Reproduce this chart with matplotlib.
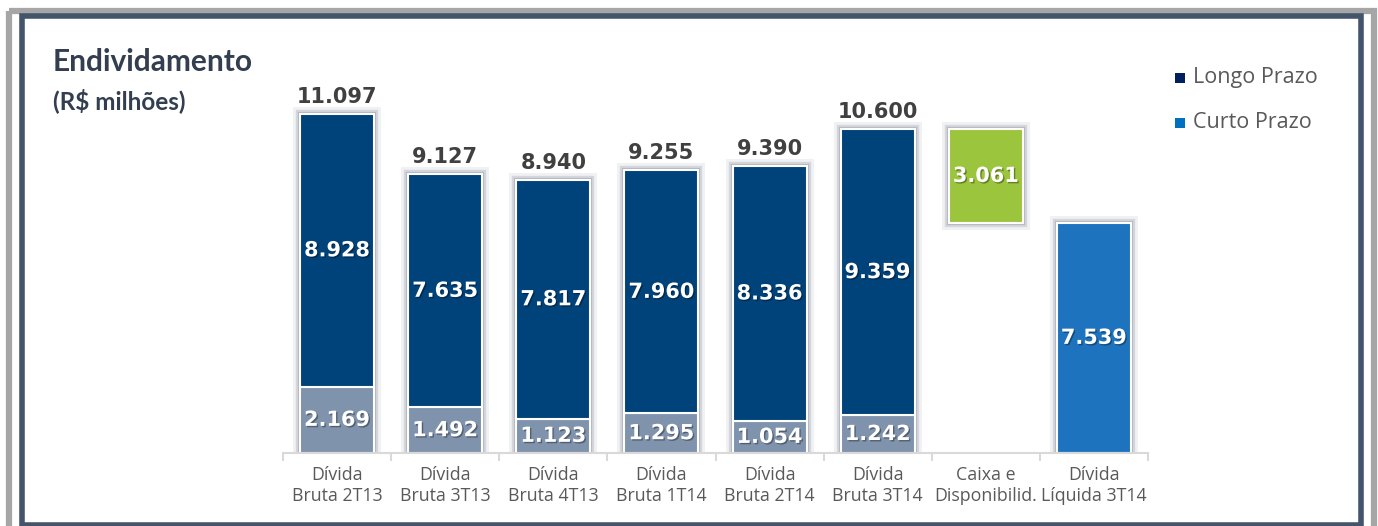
import matplotlib
matplotlib.use("Agg")
import matplotlib.pyplot as plt
import matplotlib.patheffects as pe
from matplotlib.patches import Rectangle

# ---- data ----
categories = ["Dívida\nBruta 2T13", "Dívida\nBruta 3T13", "Dívida\nBruta 4T13",
              "Dívida\nBruta 1T14", "Dívida\nBruta 2T14", "Dívida\nBruta 3T14",
              "Caixa e\nDisponibilid.", "Dívida\nLíquida 3T14"]
curto_prazo = [2169, 1492, 1123, 1295, 1054, 1242]
longo_prazo = [8928, 7635, 7817, 7960, 8336, 9359]
totais = [11097, 9127, 8940, 9255, 9390, 10600]
caixa = 3061
divida_liquida = 7539

def fmt(v):
    return f"{v:,}".replace(",", ".")

C_LONGO = "#00427a"
C_CURTO = "#7f93ad"
C_CAIXA = "#9bc53d"
C_LIQ = "#1e73be"

W, H = 1378, 526
fig = plt.figure(figsize=(W / 100, H / 100), dpi=100)

# overlay for frame (pixel coords)
ov = fig.add_axes([0, 0, 1, 1])
ov.set_xlim(0, W)
ov.set_ylim(H, 0)
ov.axis("off")
ov.add_patch(Rectangle((8.5, 10.5), 1365, 530, fill=False, ec="#a6a6a6", lw=4.5))
ov.add_patch(Rectangle((21.5, 15.5), 1339, 509, fill=False, ec="#44546a", lw=4))

ax = fig.add_axes([283 / W, (H - 453) / H, 865 / W, 412.4 / H])
ax.set_xlim(-0.5, 7.5)
ax.set_ylim(0, 13500)
bw = 0.685
x6 = list(range(6))

glow = [pe.Stroke(linewidth=10, foreground="#c4c8d0", alpha=0.25),
        pe.Stroke(linewidth=6, foreground="#a0a6b2", alpha=0.35),
        pe.Stroke(linewidth=3, foreground="#8c93a0", alpha=0.45)]

# shadow bars (whole stacks)
sh = ax.bar(x6, totais, width=bw, color="#ffffff", lw=0)
for p in sh:
    p.set_path_effects(glow)
for xi, b, h in [(6, divida_liquida, caixa), (7, 0, divida_liquida)]:
    s = ax.bar([xi], [h], bottom=[b], width=bw, color="#ffffff", lw=0)
    s[0].set_path_effects(glow)

ax.bar(x6, curto_prazo, width=bw, color=C_CURTO, edgecolor="white", lw=1.5)
ax.bar(x6, longo_prazo, bottom=curto_prazo, width=bw, color=C_LONGO, edgecolor="white", lw=1.5)
ax.bar([6], [caixa], bottom=[divida_liquida], width=bw, color=C_CAIXA, edgecolor="white", lw=1.5)
ax.bar([7], [divida_liquida], width=bw, color=C_LIQ, edgecolor="white", lw=1.5)

txt_sh = [pe.withSimplePatchShadow(offset=(1, -1), shadow_rgbFace="#000000", alpha=0.35)]
num_font = dict(family="DejaVu Sans", weight="bold")
for i in x6:
    ax.text(i, curto_prazo[i] / 2, fmt(curto_prazo[i]), ha="center", va="center",
            color="white", fontsize=15, path_effects=txt_sh, **num_font)
    ax.text(i, curto_prazo[i] + longo_prazo[i] / 2, fmt(longo_prazo[i]), ha="center",
            va="center", color="white", fontsize=15, path_effects=txt_sh, **num_font)
    ax.annotate(fmt(totais[i]), (i, totais[i]), xytext=(0, 5), textcoords="offset points",
                ha="center", va="bottom", color="#404040", fontsize=15, **num_font)
ax.text(6, divida_liquida + caixa / 2, fmt(caixa), ha="center", va="center",
        color="white", fontsize=15, path_effects=txt_sh, **num_font)
ax.text(7, divida_liquida / 2, fmt(divida_liquida), ha="center", va="center",
        color="white", fontsize=15, path_effects=txt_sh, **num_font)

for s in ["top", "right", "left"]:
    ax.spines[s].set_visible(False)
ax.spines["bottom"].set_color("#d9d9d9")
ax.spines["bottom"].set_linewidth(1.5)
ax.set_yticks([])
ax.set_xticks(range(8))
ax.set_xticklabels(categories, fontsize=12.8, color="#595959", family="Open Sans",
                   linespacing=1.25)
ax.tick_params(axis="x", which="major", length=0, pad=9)
ax.set_xticks([i - 0.5 for i in range(9)], minor=True)
ax.tick_params(axis="x", which="minor", length=6, color="#d9d9d9", width=1.5)

# title
fig.text(53 / W, 1 - 62 / H, "Endividamento", fontsize=21.5, weight="bold",
         color="#333f50", family="Lato", va="center", ha="left")
fig.text(53 / W, 1 - 101 / H, "(R$ milhões)", fontsize=17.5, weight="bold",
         color="#333f50", family="Lato", va="center", ha="left")

# legend
for yy, col, lab in [(78, "#002060", "Longo Prazo"), (123, "#0070c0", "Curto Prazo")]:
    ov.add_patch(Rectangle((1175, yy - 5), 10, 10, color=col, lw=0))
    ov.text(1193, yy, lab, fontsize=15.5, color="#595959", family="Open Sans",
            va="center", ha="left")

fig.savefig("out.png", dpi=100)
